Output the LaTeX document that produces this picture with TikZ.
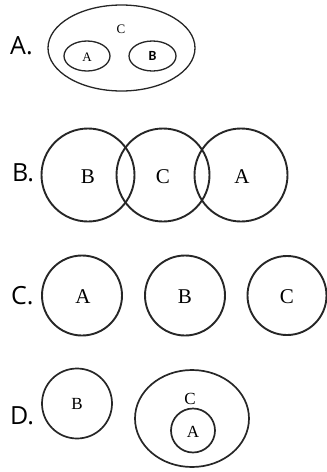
\documentclass[tikz,border=0pt]{standalone}
\usepackage{fontspec}
\setmainfont{Liberation Serif}
\newfontfamily\labfont{Open Sans}
\newfontfamily\sansb{Carlito}
\begin{document}
\begin{tikzpicture}[x=1pt,y=-1pt,
  rowlab/.style={font=\labfont\fontsize{25}{25}\selectfont, anchor=west, inner sep=0},
  big/.style={font=\fontsize{21}{21}\selectfont, inner sep=0},
  mid/.style={font=\fontsize{17}{17}\selectfont, inner sep=0},
  small/.style={font=\fontsize{13}{13}\selectfont, inner sep=0},
  thick2/.style={line width=1.9pt, draw=black!85},
  thin1/.style={line width=1.3pt, draw=black!85},
  mid1/.style={line width=1.7pt, draw=black!85}]
\useasboundingbox (0,0) rectangle (327,472);
% Row A
\node[rowlab] (la) at (10,46) {A.};
\draw[thin1] (121.5,48) ellipse [x radius=73.5, y radius=43];
\draw[thin1] (87,56) ellipse [x radius=23, y radius=15];
\draw[thin1] (152.5,56) ellipse [x radius=23.5, y radius=15];
\node[small] (ac) at (121,29) {C};
\node[small] (aa) at (87,57) {A};
\node[font=\sansb\bfseries\fontsize{14}{14}\selectfont, inner sep=0] (ab) at (152.5,56) {B};
% Row B
\node[rowlab] (lb) at (12,173) {B.};
\draw[thick2] (88,175) circle [radius=46.5];
\draw[thick2] (163,175) circle [radius=46.5];
\draw[thick2] (241,175) circle [radius=46.5];
\node[big] (bb) at (88,177) {B};
\node[big] (bc) at (163,177) {C};
\node[big] (ba) at (242,177) {A};
% Row C
\node[rowlab] (lc) at (11,296) {C.};
\draw[thick2] (82,295.5) circle [radius=40];
\draw[thick2] (185,295.5) circle [radius=40];
\draw[thick2] (287,295.5) circle [radius=39.5];
\node[big] (ca) at (83,297) {A};
\node[big] (cb) at (185,297) {B};
\node[big] (cc) at (287,297) {C};
% Row D
\node[rowlab] (ld) at (10,416) {D.};
\draw[mid1] (77,403.5) circle [radius=35];
\draw[mid1] (192,418.5) ellipse [x radius=57, y radius=48.5];
\draw[mid1] (193,430.5) circle [radius=22];
\node[mid] (db) at (77,404) {B};
\node[mid] (dc) at (190,399) {C};
\node[mid] (da) at (193,432) {A};
\end{tikzpicture}
\end{document}
